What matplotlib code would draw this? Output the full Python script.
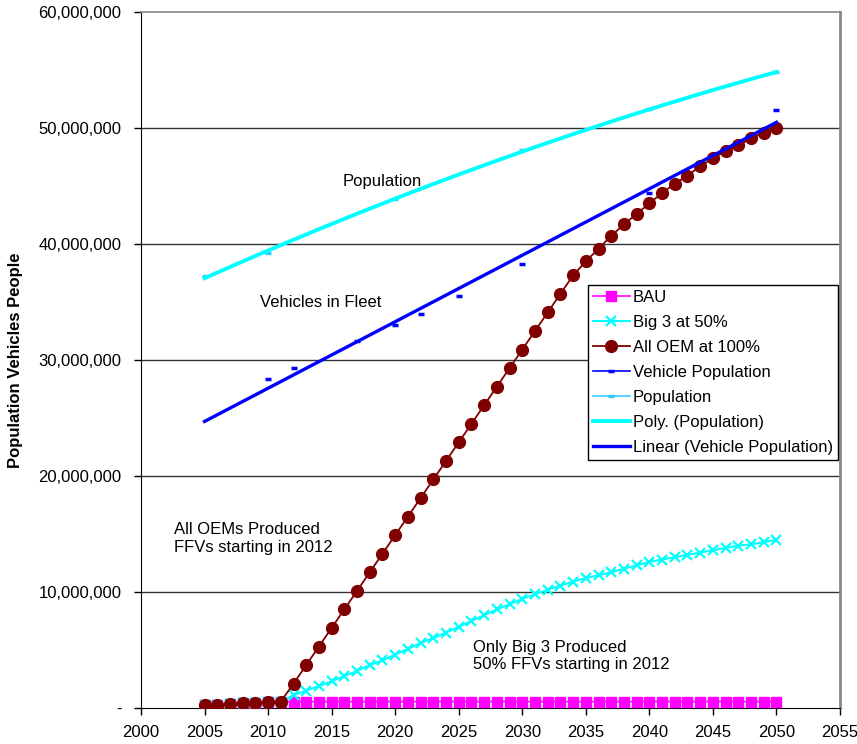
import numpy as np
import matplotlib.pyplot as plt
from matplotlib.lines import Line2D
from matplotlib.ticker import FuncFormatter

plt.rcParams['font.family'] = ['Liberation Sans', 'DejaVu Sans']

# years for the FFV scenarios
years = list(range(2005, 2051))

# FFV counts in the fleet (millions)
bau = [0.25, 0.3, 0.35, 0.4, 0.45, 0.5, 0.55] + [0.55] * 39
big3 = [0.25, 0.3, 0.35, 0.4, 0.45, 0.5, 0.55,
        1.1, 1.5, 1.9, 2.3, 2.75, 3.2, 3.7, 4.1, 4.6, 5.1,
        5.6, 6.05, 6.5, 7.0, 7.5, 8.0, 8.5, 8.95, 9.4, 9.8,
        10.2, 10.55, 10.9, 11.2, 11.45, 11.7, 12.0, 12.3, 12.6, 12.8,
        13.0, 13.2, 13.4, 13.6, 13.8, 14.0, 14.1, 14.3, 14.5]
all_oem = [0.25, 0.3, 0.35, 0.4, 0.45, 0.5, 0.55,
           2.1, 3.7, 5.3, 6.9, 8.5, 10.1, 11.7, 13.3, 14.9, 16.5,
           18.1, 19.7, 21.3, 22.9, 24.5, 26.1, 27.7, 29.3, 30.9, 32.5,
           34.1, 35.7, 37.3, 38.5, 39.6, 40.7, 41.7, 42.6, 43.5, 44.4,
           45.2, 45.9, 46.7, 47.4, 48.0, 48.5, 49.1, 49.6, 50.0]

# total vehicles in fleet (millions)
veh_years = [2010, 2012, 2017, 2020, 2022, 2025, 2030, 2040, 2050]
veh_pop = [28.4, 29.3, 31.6, 33.0, 34.0, 35.5, 38.3, 44.4, 51.55]

# population (millions)
pop_years = [2005, 2010, 2020, 2030, 2040, 2050]
population = [37.2, 39.25, 43.85, 48.1, 51.6, 54.8]

M = 1e6
FS = 12
yrs = np.array(years)
c_bau = '#FF00FF'
c_big3 = '#00FFFF'
c_oem = '#800000'
c_veh = '#0000FF'
c_pop = '#33CCFF'

fig = plt.figure(figsize=(8.57, 7.44), dpi=100)
ax = fig.add_axes([141 / 857, 36 / 744, 699 / 857, 696 / 744])

ax.plot(yrs, np.array(bau) * M, color=c_bau, marker='s', ms=7, lw=1.2, zorder=3)
ax.plot(yrs, np.array(big3) * M, color=c_big3, marker='x', ms=7, mew=1.6, lw=1.5, zorder=4)
ax.plot(yrs, np.array(all_oem) * M, color=c_oem, marker='o', ms=8.5, lw=1.3, zorder=5)

ax.plot(veh_years, np.array(veh_pop) * M, ls='none', marker='_', ms=5, mew=2.5,
        color=c_veh, zorder=5)
ax.plot(pop_years, np.array(population) * M, ls='none', marker='_', ms=5, mew=2.5,
        color=c_pop, zorder=5)

# trendlines
t = np.linspace(2005, 2050, 200)
lin = np.polyfit(veh_years, veh_pop, 1)
ax.plot(t, np.polyval(lin, t) * M, color=c_veh, lw=2.4, zorder=6)
poly = np.polyfit(pop_years, population, 2)
ax.plot(t, np.polyval(poly, t) * M, color=c_big3, lw=2.8, zorder=6)

ax.set_xlim(2000, 2055)
ax.set_ylim(0, 60 * M)
ax.set_xticks(range(2000, 2056, 5))
ax.set_yticks(np.arange(0, 61, 10) * M)
ax.yaxis.set_major_formatter(FuncFormatter(lambda v, p: '-' if v == 0 else f'{v:,.0f}'))
ax.tick_params(labelsize=FS, length=5, width=1, direction='out', colors='black')
ax.tick_params(axis='x', pad=7)
ax.tick_params(axis='y', pad=9)
for v in range(10, 60, 10):
    ax.axhline(v * M, color='#333333', lw=1, zorder=1)

ax.spines['left'].set_color('black')
ax.spines['bottom'].set_color('black')
ax.spines['top'].set_color('#888888')
ax.spines['right'].set_color('#888888')
ax.spines['top'].set_linewidth(1.2)
ax.spines['right'].set_linewidth(2)

ax.set_ylabel('Population Vehicles People', fontsize=FS, fontweight='bold', labelpad=11)

ax.text(2015.9, 45.4 * M, 'Population', fontsize=FS, va='center')
ax.text(2009.4, 35.0 * M, 'Vehicles in Fleet', fontsize=FS, va='center')
ax.text(2002.6, 14.6 * M, 'All OEMs Produced\nFFVs starting in 2012', fontsize=FS,
        va='center', linespacing=1.25)
ax.text(2026.1, 4.5 * M, 'Only Big 3 Produced\n50% FFVs starting in 2012', fontsize=FS,
        va='center', linespacing=1.2)

handles = [
    Line2D([], [], color=c_bau, marker='s', ms=7, lw=1.2),
    Line2D([], [], color=c_big3, marker='x', ms=7, mew=1.6, lw=1.5),
    Line2D([], [], color=c_oem, marker='o', ms=8.5, lw=1.3),
    Line2D([], [], color=c_veh, marker='_', ms=5, mew=2.5, lw=1.2),
    Line2D([], [], color=c_pop, marker='_', ms=5, mew=2.5, lw=1.2),
    Line2D([], [], color=c_big3, lw=2.8),
    Line2D([], [], color=c_veh, lw=2.4),
]
labels = ['BAU', 'Big 3 at 50%', 'All OEM at 100%', 'Vehicle Population',
          'Population', 'Poly. (Population)', 'Linear (Vehicle Population)']
leg = ax.legend(handles, labels, loc='upper left', bbox_to_anchor=(0.6395, 0.6078),
                fontsize=FS, frameon=True, fancybox=False, framealpha=1,
                edgecolor='black', handlelength=2.2, handletextpad=0.2,
                labelspacing=0.6, borderpad=0.3, borderaxespad=0)
leg.get_frame().set_linewidth(1)
leg.set_zorder(10)

fig.savefig('out.png', dpi=100)
